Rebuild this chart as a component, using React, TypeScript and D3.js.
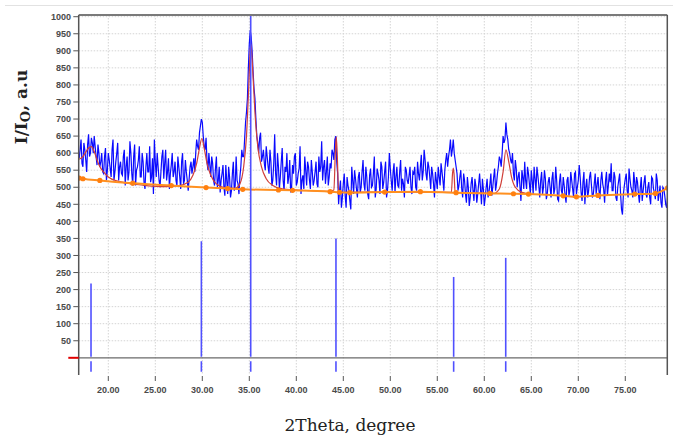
import React from "react";
import * as d3 from "d3";

const W = 673;
const H = 437;

// measured intensity, 2theta sampled from 16.9 every 0.2 deg
const scanStart = 16.9;
const scanStep = 0.2;
const counts = [
  // 16.9 - 21.7
  585, 640, 560, 610, 545, 655, 600, 630, 650, 590, 625, 560, 600, 540, 615, 550, 580, 530, 640, 545, 600, 520, 575, 535, 610,
  // 21.9 - 26.7
  560, 520, 635, 540, 590, 505, 560, 620, 530, 575, 495, 600, 545, 515, 585, 640, 530, 560, 500, 590, 525, 610, 545, 495, 565,
  // 26.9 - 31.7
  530, 575, 505, 560, 495, 600, 520, 545, 490, 560, 540, 585, 600, 620, 660, 700, 650, 610, 575, 600, 530, 570, 505, 590, 520,
  // 31.9 - 36.7
  485, 540, 500, 565, 480, 530, 490, 575, 505, 520, 480, 560, 590, 640, 720, 850, 960, 900, 790, 700, 630, 645, 575, 610, 550,
  // 36.9 - 41.7
  590, 540, 575, 520, 655, 505, 560, 530, 615, 490, 545, 510, 580, 500, 540, 600, 515, 555, 480, 535, 590, 505, 560, 495, 545,
  // 41.9 - 46.7
  520, 575, 500, 545, 635, 560, 510, 590, 530, 555, 600, 640, 575, 450, 520, 470, 540, 440, 505, 460, 560, 480, 525, 470, 545,
  // 46.9 - 51.7
  500, 580, 490, 530, 465, 555, 505, 590, 495, 540, 480, 560, 515, 575, 490, 600, 520, 545, 485, 560, 500, 580, 525, 470, 550,
  // 51.9 - 56.7
  510, 560, 480, 540, 500, 575, 520, 595, 545, 580, 520, 560, 495, 540, 470, 520, 560, 505, 545, 490, 580, 560, 610, 590, 640,
  // 56.9 - 61.7
  580, 540, 505, 550, 470, 520, 455, 500, 470, 530, 460, 505, 480, 540, 450, 495, 470, 525, 485, 540, 500, 555, 510, 560, 580,
  // 61.9 - 66.7
  600, 630, 690, 640, 600, 570, 540, 580, 500, 545, 460, 530, 575, 495, 540, 480, 520, 560, 490, 535, 470, 545, 500, 525, 480,
  // 66.9 - 71.7
  530, 470, 545, 495, 520, 460, 540, 480, 505, 455, 530, 490, 520, 470, 545, 500, 565, 485, 515, 450, 525, 490, 545, 470, 510,
  // 71.9 - 76.7
  480, 530, 465, 545, 495, 520, 475, 540, 570, 490, 530, 460, 520, 480, 420, 505, 540, 470, 525, 490, 545, 475, 515, 455, 530,
  // 76.9 - 79.5
  490, 535, 470, 515, 450, 525, 485, 540, 460, 505, 440, 495, 450, 470,
];

// in-between readings, 2theta from 17.0 every 0.2 deg
const midStart = 17.0;
const countsMid = [
  // 17.0 - 21.8
  610, 570, 630, 580, 625, 590, 645, 600, 620, 565, 600, 575, 545, 590, 520, 600, 555, 610, 520, 575, 630, 560, 540, 590, 505,
  // 22.0 - 26.8
  590, 545, 600, 505, 625, 550, 580, 530, 600, 515, 560, 545, 620, 530, 480, 575, 600, 520, 545, 610, 570, 520, 585, 540, 600,
  // 27.0 - 31.8
  545, 520, 590, 530, 575, 510, 580, 520, 525, 575, 560, 545, 640, 610, 680, 690, 620, 645, 550, 565, 590, 520, 555, 500, 560,
  // 32.0 - 36.8
  520, 565, 475, 520, 560, 470, 540, 490, 590, 510, 530, 610, 590, 690, 760, 920, 940, 840, 760, 650, 600, 660, 590, 570, 620,
  // 37.0 - 41.8
  560, 610, 505, 570, 540, 600, 495, 575, 520, 560, 600, 530, 485, 565, 590, 505, 540, 620, 520, 495, 550, 575, 520, 580, 505,
  // 42.0 - 46.8
  545, 510, 590, 560, 520, 580, 545, 505, 570, 610, 580, 650, 540, 490, 440, 510, 475, 530, 490, 435, 520, 550, 495, 530, 485,
  // 47.0 - 51.8
  545, 510, 560, 480, 535, 500, 540, 470, 555, 520, 575, 495, 545, 470, 530, 555, 490, 570, 530, 505, 545, 490, 510, 560, 520,
  // 52.0 - 56.8
  535, 500, 545, 560, 490, 540, 560, 520, 610, 540, 575, 530, 560, 510, 545, 495, 530, 570, 520, 550, 600, 590, 640, 610, 600,
  // 57.0 - 61.8
  560, 490, 530, 495, 540, 480, 530, 445, 510, 490, 525, 455, 510, 495, 525, 445, 500, 470, 510, 475, 530, 490, 540, 590, 560,
  // 62.0 - 66.8
  650, 640, 655, 610, 580, 600, 520, 555, 530, 500, 550, 495, 520, 560, 510, 550, 480, 525, 560, 505, 520, 480, 550, 465, 515,
  // 67.0 - 71.8
  500, 525, 480, 560, 465, 515, 490, 530, 475, 520, 475, 545, 495, 540, 480, 520, 530, 460, 545, 500, 470, 530, 505, 480, 540,
  // 72.0 - 76.8
  505, 490, 520, 510, 455, 545, 505, 515, 490, 545, 470, 500, 540, 435, 480, 525, 490, 555, 500, 470, 515, 530, 480, 500, 460,
  // 77.0 - 79.4
  515, 480, 500, 470, 530, 495, 465, 520, 480, 455, 500, 475, 440,
];

// fitted profile (red)
const fitX = [16.9, 17.3, 17.6, 17.9, 18.2, 18.5, 18.8, 19.1, 19.5, 20, 21, 22, 23, 24, 26, 27.5, 28.5, 29.0, 29.4, 29.7, 29.95, 30.2, 30.5, 30.9, 31.5, 32.5, 33.5, 34.0, 34.4, 34.7, 34.95, 35.15, 35.35, 35.6, 35.9, 36.3, 36.8, 37.5, 38.5, 40, 43.5, 44.0, 44.15, 44.25, 44.35, 44.5, 45, 50, 56.5, 56.62, 56.7, 56.78, 56.9, 61, 61.6, 62.0, 62.3, 62.6, 62.9, 63.3, 64, 65];
const fitY = [582, 590, 603, 615, 619, 605, 580, 560, 545, 530, 518, 512, 508, 505, 502, 505, 515, 535, 570, 615, 643, 615, 570, 535, 510, 498, 497, 510, 560, 650, 800, 922, 850, 720, 620, 560, 525, 505, 495, 492, 488, 492, 600, 648, 600, 490, 485, 486, 485, 540, 556, 540, 484, 482, 495, 545, 610, 575, 530, 500, 485, 480];

// background (orange, with markers)
const bgX = [16.9, 17.3, 19.1, 22.6, 26.7, 30.4, 32.7, 34.3, 38.1, 39.6, 43.6, 44.6, 45.7, 49.4, 53.2, 57.0, 60.6, 63.1, 64.7, 68.4, 69.8, 72.1, 76.0, 78.2, 79.5];
const bgY = [527, 525, 520, 512, 505, 499, 496, 494, 492, 491, 487, 485, 484, 486, 487, 484, 482, 481, 480, 475, 472, 476, 480, 482, 498];

// reference pattern lines
const stickX = [18.16, 29.9, 35.15, 44.22, 56.74, 62.28];
const stickY = [218, 342, 1010, 350, 237, 293];

const xTicks = [20, 25, 30, 35, 40, 45, 50, 55, 60, 65, 70, 75];
const yTicks = d3.range(50, 1001, 50);

export default function App() {
  const left = 78.7;
  const right = 667.3;
  const top = 15;
  const bottom = 375;

  const x = d3.scaleLinear().domain([16.85, 79.47]).range([left, right]);
  const y = d3.scaleLinear().domain([-50.4, 1005]).range([bottom, top]);

  const scan = counts
    .map((v, i) => [scanStart + scanStep * i, v] as [number, number])
    .concat(countsMid.map((v, i) => [midStart + scanStep * i, v] as [number, number]))
    .sort((a, b) => a[0] - b[0]);
  const line = d3.line<[number, number]>().x(d => x(d[0])).y(d => y(d[1]));
  const smooth = d3.line<[number, number]>().x(d => x(d[0])).y(d => y(d[1])).curve(d3.curveMonotoneX);

  const fit = fitX.map((v, i) => [v, fitY[i]] as [number, number]);
  const bg = bgX.map((v, i) => [v, bgY[i]] as [number, number]);

  const tickFont = "'Liberation Sans', Arial, sans-serif";

  return (
    <svg width={W} height={H} style={{ position: "absolute", left: 0, top: 0, background: "#fff" }}>
      <defs>
        <clipPath id="plot">
          <rect x={left} y={top} width={right - left} height={bottom - top} />
        </clipPath>
      </defs>
      <line x1={5} x2={W} y1={5.5} y2={5.5} stroke="#e2e2e2" strokeWidth={1} />

      {/* grid */}
      <g stroke="#d4d4d4" strokeWidth={1} strokeDasharray="1.5,1.5">
        {yTicks.map(t => (
          <line key={"gy" + t} x1={left} x2={right} y1={y(t)} y2={y(t)} />
        ))}
        {xTicks.map(t => (
          <line key={"gx" + t} x1={x(t)} x2={x(t)} y1={top} y2={bottom} />
        ))}
      </g>

      {/* zero line */}
      <line x1={left} x2={right} y1={y(0)} y2={y(0)} stroke="#6a6a6a" strokeWidth={1.2} />

      <g clipPath="url(#plot)">
        <path d={line(scan) || ""} fill="none" stroke="#0a0aff" strokeWidth={1.2} />
        <path d={smooth(fit) || ""} fill="none" stroke="#d0403a" strokeWidth={1.2} />
        <path d={smooth(bg) || ""} fill="none" stroke="#ff9020" strokeWidth={2} />
        {bg.map((d, i) => (
          <circle key={"b" + i} cx={x(d[0])} cy={y(d[1])} r={2.6} fill="#ff8010" />
        ))}
        {stickX.map((s, i) => (
          <g key={"s" + i} stroke="#5050ff" strokeWidth={1.6}>
            <line x1={x(s)} x2={x(s)} y1={y(0) - 1} y2={y(stickY[i])} />
            <line x1={x(s)} x2={x(s)} y1={y(-10)} y2={y(-41)} />
          </g>
        ))}
      </g>

      {/* frame */}
      <line x1={left} x2={right} y1={top} y2={top} stroke="#7a7a7a" strokeWidth={2} />
      <line x1={left} x2={left} y1={top} y2={bottom} stroke="#555" strokeWidth={1.5} />
      <line x1={right} x2={right} y1={top} y2={bottom} stroke="#555" strokeWidth={1.5} />

      {/* y axis */}
      <line x1={68.3} x2={left} y1={y(0)} y2={y(0)} stroke="#e00000" strokeWidth={2} />
      {yTicks.map(t => (
        <g key={"yt" + t}>
          <line x1={73.3} x2={left} y1={y(t)} y2={y(t)} stroke="#555" strokeWidth={1} />
          <text x={71} y={y(t) + 3.2} textAnchor="end" fontFamily={tickFont} fontSize={9} fontWeight="bold" fill="#4a4a4a">
            {t}
          </text>
        </g>
      ))}

      {/* x axis */}
      {xTicks.map(t => (
        <g key={"xt" + t}>
          <line x1={x(t)} x2={x(t)} y1={bottom + 1} y2={bottom + 6} stroke="#555" strokeWidth={1} />
          <text x={x(t)} y={393} textAnchor="middle" fontFamily={tickFont} fontSize={9} fontWeight="bold" fill="#4a4a4a">
            {t.toFixed(2)}
          </text>
        </g>
      ))}

      {/* titles */}
      <text
        transform="translate(27,107) rotate(-90)"
        textAnchor="middle"
        fontFamily="'DejaVu Serif', serif"
        fontWeight="bold"
        fontSize={17}
        fill="#222"
      >
        I/I<tspan fontSize={13} dy={3}>O</tspan>
        <tspan dy={-3}>, a.u</tspan>
      </text>
      <text x={350} y={431} textAnchor="middle" fontFamily="'DejaVu Serif', serif" fontSize={17} fill="#222">
        2Theta, degree
      </text>
    </svg>
  );
}
